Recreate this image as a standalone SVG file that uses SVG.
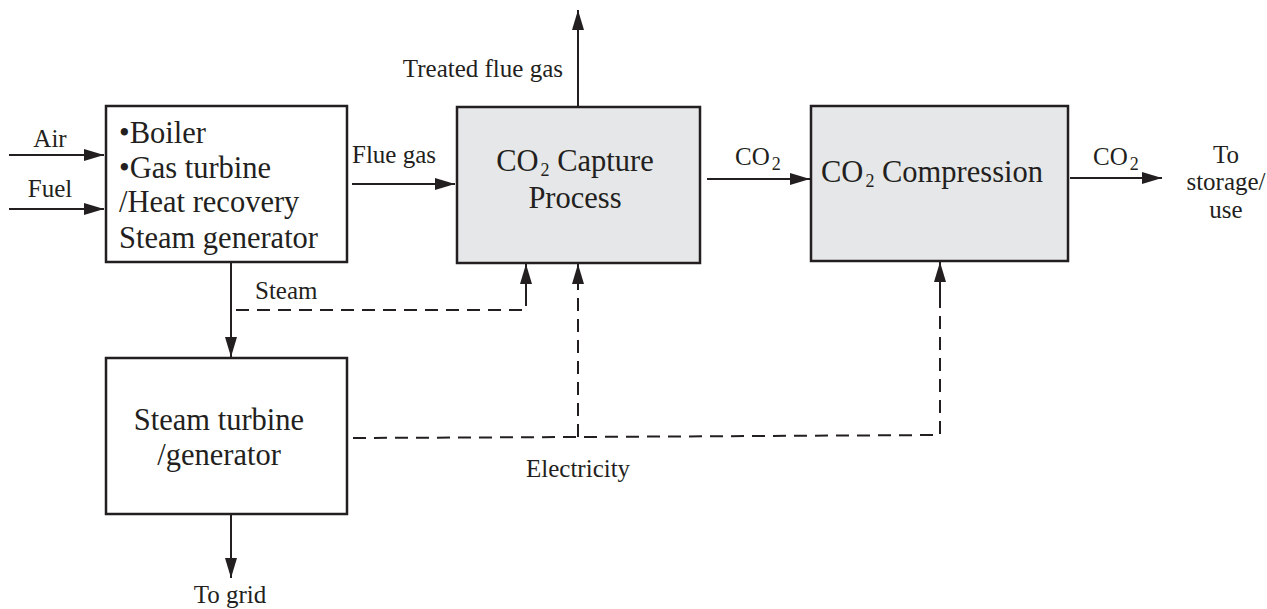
<svg xmlns="http://www.w3.org/2000/svg" width="1267" height="609" viewBox="0 0 1267 609">
<defs>
<marker id="ah" markerUnits="userSpaceOnUse" markerWidth="20" markerHeight="12" refX="20" refY="6" orient="auto" viewBox="0 0 20 12">
<path d="M0,0 L20,6 L0,12 z" fill="#231f20"/>
</marker>
<style>
.box{fill:#fff;stroke:#231f20;stroke-width:2.5}
.grey{fill:#e6e7e8}
.t{font-family:"Liberation Serif","Times New Roman",serif;font-size:30.5px;fill:#231f20}
.l{font-family:"Liberation Serif","Times New Roman",serif;font-size:25px;fill:#231f20}
.ln{fill:none;stroke:#231f20;stroke-width:2}
.arr{marker-end:url(#ah)}
.d{stroke-dasharray:13 8}
.sub{font-size:18px}
</style>
</defs>
<rect width="1267" height="609" fill="#fff"/>
<g id="connectors">
<line class="ln arr" x1="9" y1="155" x2="104" y2="155"/>
<line class="ln arr" x1="9" y1="209" x2="104" y2="209"/>
<line class="ln arr" x1="352" y1="184" x2="455" y2="184"/>
<line class="ln arr" x1="578" y1="106" x2="578" y2="10"/>
<line class="ln arr" x1="707" y1="179" x2="810" y2="179"/>
<line class="ln arr" x1="1070" y1="178" x2="1162" y2="178"/>
<line class="ln arr" x1="231" y1="263" x2="231" y2="357"/>
<line class="ln arr" x1="231" y1="515" x2="231" y2="578"/>
<polyline class="ln d" points="236,310 526,310 526,296"/>
<line class="ln arr" x1="526" y1="300" x2="526" y2="264"/>
<polyline class="ln d" points="353,438 578,437 940,435 940,290"/>
<line class="ln d arr" x1="578" y1="437" x2="578" y2="264"/>
<line class="ln arr" x1="940" y1="295" x2="940" y2="262"/>
<text class="l" x="50" y="147" text-anchor="middle">Air</text>
<text class="l" x="50" y="197" text-anchor="middle">Fuel</text>
<text class="l" x="352" y="163">Flue gas</text>
<text class="l" x="563" y="77" text-anchor="end">Treated flue gas</text>
<text class="l" x="735" y="165">CO<tspan class="sub" dx="2" dy="5">2</tspan></text>
<text class="l" x="1093" y="165">CO<tspan class="sub" dx="2" dy="5">2</tspan></text>
<text class="l" x="1226" y="163" text-anchor="middle">To</text>
<text class="l" x="1226" y="190" text-anchor="middle">storage/</text>
<text class="l" x="1226" y="218" text-anchor="middle">use</text>
<text class="l" x="255" y="299">Steam</text>
<text class="l" x="526" y="477">Electricity</text>
<text class="l" x="230" y="603" text-anchor="middle">To grid</text>
</g>
<g id="boiler">
<rect class="box" x="106" y="106" width="241" height="156"/>
<text class="t" x="119" y="143">•Boiler</text>
<text class="t" x="119" y="178">•Gas turbine</text>
<text class="t" x="119" y="212">/Heat recovery</text>
<text class="t" x="119" y="248">Steam generator</text>
</g>
<g id="capture">
<rect class="box grey" x="457" y="107" width="243" height="156"/>
<text class="t" x="575" y="171" text-anchor="middle">CO<tspan class="sub" dx="2" dy="5">2</tspan><tspan dy="-5"> Capture</tspan></text>
<text class="t" x="575" y="208" text-anchor="middle">Process</text>
</g>
<g id="compression">
<rect class="box grey" x="811" y="106" width="257" height="155"/>
<text class="t" x="932" y="182" text-anchor="middle">CO<tspan class="sub" dx="2" dy="5">2</tspan><tspan dy="-5"> Compression</tspan></text>
</g>
<g id="steamturbine">
<rect class="box" x="106" y="358" width="241" height="156"/>
<text class="t" x="219" y="430" text-anchor="middle">Steam turbine</text>
<text class="t" x="219" y="465" text-anchor="middle">/generator</text>
</g>
</svg>
